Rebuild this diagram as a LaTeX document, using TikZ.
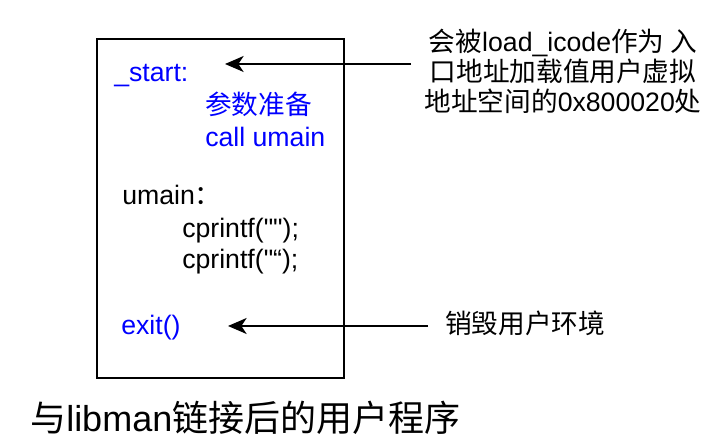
\documentclass[tikz,border=0pt]{standalone}
\usepackage{fontspec}
\setmainfont{Liberation Sans}[Ligatures=TeXOff]
\newfontfamily\cjk{Noto Sans CJK SC}
\usetikzlibrary{arrows.meta}
\tikzstyle{code} = [
    anchor=base west,
    inner sep=0pt,
    font=\fontsize{20}{22}\selectfont
]
\tikzstyle{note} = [
    align=center,
    inner ysep=0pt,
    font=\fontsize{20}{22.5}\selectfont
]
\tikzstyle{arrow} = [
    line width=1.3pt,
    -{Stealth[length=14pt, width=12pt, inset=4pt]}
]

\begin{document}
\begin{tikzpicture}[x=0.75pt, y=-0.75pt]
        \useasboundingbox (0,0) rectangle (719,445);
        % Program box
        \node[draw, line width=1.5pt, minimum width=185.25pt, minimum height=254.25pt, inner sep=0pt] (prog) at (220.5,208.5) {};

        % Code lines
        \node[code, text=blue] (start) at (114,82) {\_start:};
        \node[code, text=blue] (args) at (205,115) {\cjk 参数准备};
        \node[code, text=blue] (call) at (205,147) {call umain};
        \node[code] (umain) at (122,205) {umain{\cjk ：}};
        \node[code] (print1) at (182,238) {cprintf("");};
        \node[code] (print2) at (182,269) {cprintf("“);};
        \node[code, text=blue] (exit) at (121,335) {exit()};

        % Notes
        \node[note, anchor=base, inner xsep=9.75pt] (entry) at (563,112)
            {{\cjk 会被}load\_icode{\cjk 作为 入}\\{\cjk 口地址加载值用户虚拟}\\{\cjk 地址空间的}0x800020{\cjk 处}};
        \node[note, anchor=base west, inner xsep=12.75pt] (destroy) at (428,334) {\cjk 销毁用户环境};
        \node[anchor=base west, inner sep=0pt, font=\fontsize{27}{30}\selectfont] (caption) at (30,432)
            {{\cjk 与}libman{\cjk 链接后的用户程序}};

        % Arrows
        \coordinate (starttip) at (225,64);
        \coordinate (exittip) at (228,326);
        \draw[arrow] (entry.west |- starttip) -- (starttip);
        \draw[arrow] (destroy.west |- exittip) -- (exittip);
    \end{tikzpicture}
\end{document}
